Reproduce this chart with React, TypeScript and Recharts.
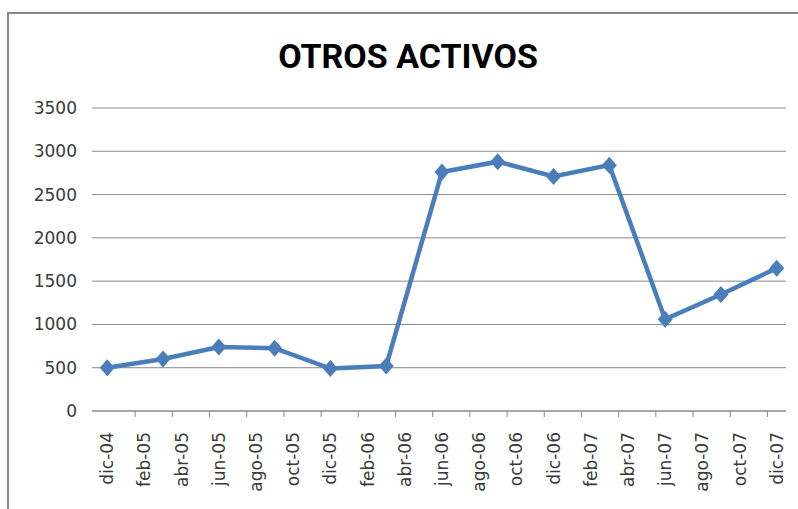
import React from 'react';
import { LineChart, Line, XAxis, YAxis, CartesianGrid } from 'recharts';

const title = 'OTROS ACTIVOS';
const tickLabels = [
  'dic-04', 'feb-05', 'abr-05', 'jun-05', 'ago-05', 'oct-05', 'dic-05',
  'feb-06', 'abr-06', 'jun-06', 'ago-06', 'oct-06', 'dic-06',
  'feb-07', 'abr-07', 'jun-07', 'ago-07', 'oct-07', 'dic-07',
];
const pointDates = [
  'dic-04', 'mar-05', 'jun-05', 'sep-05', 'dic-05', 'mar-06', 'jun-06',
  'sep-06', 'dic-06', 'mar-07', 'jun-07', 'sep-07', 'dic-07',
];
const values = [500, 600, 740, 725, 490, 520, 2760, 2880, 2710, 2840, 1060, 1345, 1650];
const yTicks = [0, 500, 1000, 1500, 2000, 2500, 3000, 3500];

const MONTHS = ['ene', 'feb', 'mar', 'abr', 'may', 'jun', 'jul', 'ago', 'sep', 'oct', 'nov', 'dic'];
const monthIndex = (label: string) => {
  const [m, y] = label.split('-');
  return (2000 + Number(y)) * 12 + MONTHS.indexOf(m);
};
const origin = monthIndex(tickLabels[0]);
const toX = (l: string) => monthIndex(l) - origin;

const data = pointDates.map((d, i) => ({ x: toX(d), value: values[i], label: d }));
const labelByX = new Map(tickLabels.map((l) => [toX(l), l]));
const boundaryTicks = tickLabels.slice(1).map((l) => toX(l) - 0.5);
const allTicks = [...tickLabels.map(toX), ...boundaryTicks].sort((a, b) => a - b);
const xDomain: [number, number] = [-0.82, 36.5];

const BLUE = '#4a7ebb';
const GRID = '#8a8a8a';
const TEXT = '#3a3a3a';
const FONT = 'DejaVu Sans';

const XTick = (props: any) => {
  const { x, y, payload } = props;
  const label = labelByX.get(payload.value);
  if (label === undefined) {
    return <line x1={x} y1={y} x2={x} y2={y + 6} stroke={GRID} strokeWidth={1} />;
  }
  const tx = x + 6;
  const ty = y + 21;
  return (
    <text
      x={tx}
      y={ty}
      transform={`rotate(-90 ${tx} ${ty})`}
      textAnchor="end"
      fontFamily={FONT}
      fontSize={17}
      fill={TEXT}
    >
      {label}
    </text>
  );
};

const Diamond = (props: any) => {
  const { cx, cy } = props;
  if (cx == null || cy == null) return null;
  return (
    <polygon
      points={`${cx},${cy - 8.5} ${cx + 7.5},${cy} ${cx},${cy + 8.5} ${cx - 7.5},${cy}`}
      fill={BLUE}
    />
  );
};

export default function App() {
  return (
    <div
      style={{
        position: 'fixed',
        left: 0,
        top: 0,
        width: 798,
        height: 509,
        overflow: 'hidden',
        background: '#fff',
      }}
    >
      <div
        style={{
          position: 'absolute',
          left: 7,
          top: 12,
          width: 900,
          height: 600,
          borderTop: `2px solid #888`,
          borderLeft: `2px solid #888`,
        }}
      />
      <svg
        width={798}
        height={509}
        style={{ position: 'absolute', left: 0, top: 0 }}
      >
        <text
          x={408}
          y={68}
          textAnchor="middle"
          fontFamily="Roboto"
          fontWeight={700}
          fontSize={34}
          fill="#000"
        >
          {title}
        </text>
      </svg>
      <div style={{ position: 'absolute', left: 0, top: 0 }}>
        <LineChart
          width={798}
          height={509}
          data={data}
          margin={{ top: 108, right: 12, bottom: 0, left: 0 }}
        >
          <CartesianGrid vertical={false} stroke={GRID} />
          <XAxis
            dataKey="x"
            type="number"
            domain={xDomain}
            allowDataOverflow
            ticks={allTicks}
            interval={0}
            tick={<XTick />}
            tickSize={0}
            tickMargin={0}
            tickLine={false}
            axisLine={{ stroke: GRID }}
            height={98}
          />
          <YAxis
            type="number"
            domain={[0, 3500]}
            ticks={yTicks}
            interval={0}
            width={92}
            tickSize={0}
            tickMargin={15}
            axisLine={false}
            tickLine={false}
            tick={{ fontFamily: FONT, fontSize: 17, fill: TEXT }}
          />
          <Line
            dataKey="value"
            stroke={BLUE}
            strokeWidth={4.5}
            dot={<Diamond />}
            activeDot={false}
            isAnimationActive={false}
          />
        </LineChart>
      </div>
    </div>
  );
}
